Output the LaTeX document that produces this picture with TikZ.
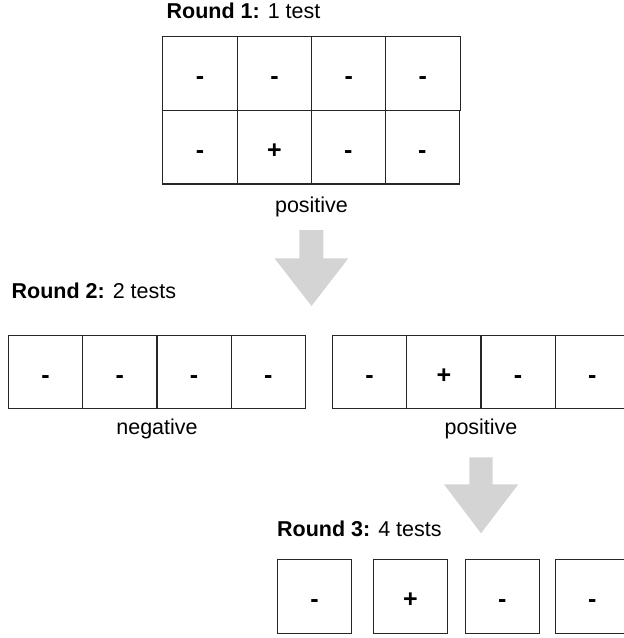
\documentclass[tikz,border=0pt]{standalone}
\usepackage{fontspec}
\setmainfont{Liberation Sans}
\begin{document}
\begin{tikzpicture}[x=1pt,y=-1pt,
  cell/.style={draw=black!85, line width=1.1pt, rectangle, inner sep=0pt,
    minimum width=74.3pt, minimum height=73.8pt, text height=22.6pt, text depth=0pt,
    font=\fontsize{25}{28}\selectfont\bfseries},
  lbl/.style={anchor=base, inner sep=0pt, font=\fontsize{21.5}{26}\selectfont},
  ttl/.style={anchor=base west, inner sep=0pt, font=\fontsize{21.5}{26}\selectfont},
  blockarrow/.style={fill=black!17, draw=none}]
\fill[white] (0,0) rectangle (624,638);
\useasboundingbox (0,0) rectangle (624,638);

% Round 1
\node[ttl] (t1) at (166.5,18) {\textbf{Round 1:} 1 test};
\node[cell] (a1) at (200.0,73.4) {-};
\node[cell] (a2) at (274.5,73.4) {-};
\node[cell] (a3) at (348.7,73.4) {-};
\node[cell] (a4) at (422.9,73.4) {-};
\node[cell] (a5) at (200.0,147.1) {-};
\node[cell] (a6) at (274.5,147.1) {+};
\node[cell] (a7) at (348.4,147.1) {-};
\node[cell] (a8) at (422.3,147.1) {-};
\node[lbl] (p1) at (311.5,212) {positive};

% Arrow 1
\fill[blockarrow] (299.3,230) -- (323.3,230) -- (323.3,258.3) -- (348.3,258.3)
  -- (311.5,306) -- (274.5,258.3) -- (299.3,258.3) -- cycle;

% Round 2
\node[ttl] (t2) at (11.5,298.5) {\textbf{Round 2:} 2 tests};
\node[cell] (b1) at (45.5,372) {-};
\node[cell] (b2) at (119.8,372) {-};
\node[cell] (b3) at (194.1,372) {-};
\node[cell] (b4) at (268.4,372) {-};
\node[lbl] (n2) at (157,434) {negative};
\node[cell] (c1) at (369.5,372) {-};
\node[cell] (c2) at (443.8,372) {+};
\node[cell] (c3) at (518.1,372) {-};
\node[cell] (c4) at (592.4,372) {-};
\node[lbl] (p2) at (481,434) {positive};

% Arrow 2
\fill[blockarrow] (469.3,457.3) -- (492.7,457.3) -- (492.7,484.3) -- (518.3,484.3)
  -- (481,533.3) -- (444,484.3) -- (469.3,484.3) -- cycle;

% Round 3
\node[ttl] (t3) at (277,536.5) {\textbf{Round 3:} 4 tests};
\node[cell] (d1) at (314.5,596.3) {-};
\node[cell] (d2) at (410.3,596.3) {+};
\node[cell] (d3) at (502.2,596.3) {-};
\node[cell] (d4) at (592.2,596.3) {-};
\end{tikzpicture}
\end{document}
